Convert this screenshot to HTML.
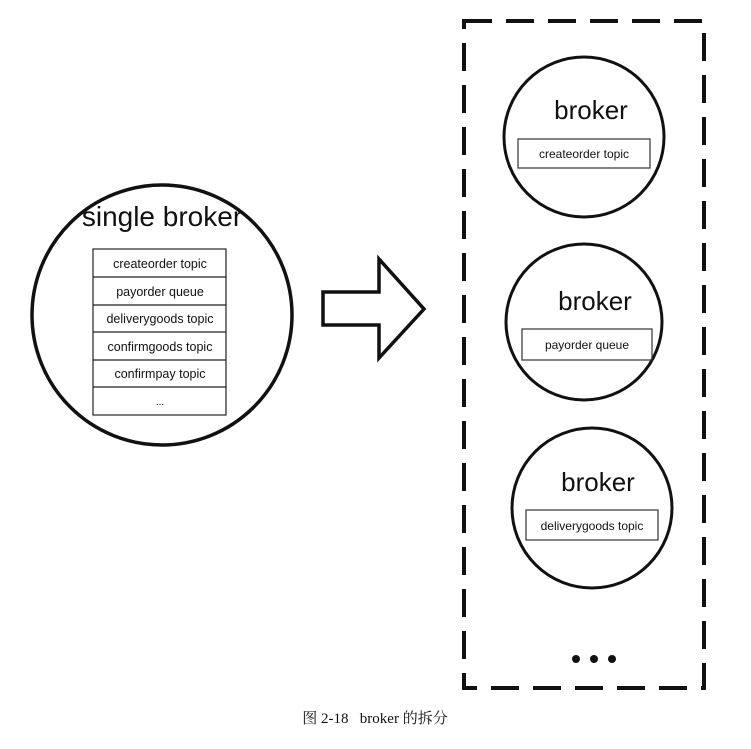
<!DOCTYPE html>
<html><head><meta charset="utf-8"><style>
html,body{margin:0;padding:0;background:#fff;}
svg{display:block}
</style></head><body>
<svg width="751" height="749" viewBox="0 0 751 749" xmlns="http://www.w3.org/2000/svg" font-family="'Liberation Sans', sans-serif">
<rect width="751" height="749" fill="#fff"/>
<!-- big circle -->
<circle cx="162" cy="315" r="130" fill="none" stroke="#111" stroke-width="3.5"/>
<text x="162" y="226" text-anchor="middle" font-size="28" fill="#111">single broker</text>
<g fill="none" stroke="#222" stroke-width="1.2">
<rect x="93" y="249" width="133" height="166"/>
<line x1="93" y1="277" x2="226" y2="277"/><line x1="93" y1="305" x2="226" y2="305"/>
<line x1="93" y1="332" x2="226" y2="332"/><line x1="93" y1="360" x2="226" y2="360"/>
<line x1="93" y1="387" x2="226" y2="387"/>
</g>
<g font-size="12.5" text-anchor="middle" fill="#111">
<text x="160" y="268">createorder topic</text>
<text x="160" y="296">payorder queue</text>
<text x="160" y="323">deliverygoods topic</text>
<text x="160" y="351">confirmgoods topic</text>
<text x="160" y="378">confirmpay topic</text>
<text x="160" y="405" font-size="10">...</text>
</g>
<!-- arrow -->
<polygon points="323,292 379,292 379,259 424,309 379,358 379,325 323,325" fill="#fff" stroke="#111" stroke-width="3.5" stroke-linejoin="miter"/>
<!-- dashed box -->
<rect x="464" y="21" width="240" height="667" fill="none" stroke="#111" stroke-width="4" stroke-dasharray="28,14"/>
<!-- circles -->
<circle cx="584" cy="137" r="80" fill="none" stroke="#111" stroke-width="3"/>
<text x="591" y="119" text-anchor="middle" font-size="26" fill="#111">broker</text>
<rect x="518" y="139" width="132" height="29" fill="none" stroke="#333" stroke-width="1.2"/>
<text x="584" y="158" text-anchor="middle" font-size="12" fill="#111">createorder topic</text>

<circle cx="584" cy="322" r="78" fill="none" stroke="#111" stroke-width="3"/>
<text x="595" y="310" text-anchor="middle" font-size="26" fill="#111">broker</text>
<rect x="522" y="329" width="130" height="31" fill="none" stroke="#333" stroke-width="1.2"/>
<text x="587" y="349" text-anchor="middle" font-size="12" fill="#111">payorder queue</text>

<circle cx="592" cy="508" r="80" fill="none" stroke="#111" stroke-width="3"/>
<text x="598" y="491" text-anchor="middle" font-size="26" fill="#111">broker</text>
<rect x="526" y="510" width="132" height="30" fill="none" stroke="#333" stroke-width="1.2"/>
<text x="592" y="530" text-anchor="middle" font-size="12" fill="#111">deliverygoods topic</text>

<circle cx="576" cy="659" r="4" fill="#111"/>
<circle cx="594" cy="659" r="4" fill="#111"/>
<circle cx="612" cy="659" r="4" fill="#111"/>

<text x="375" y="723" text-anchor="middle" font-size="15" fill="#111" font-family="'Liberation Serif','Noto Serif CJK SC',serif" xml:space="preserve">图 2-18   broker 的拆分</text>
</svg>
</body></html>
